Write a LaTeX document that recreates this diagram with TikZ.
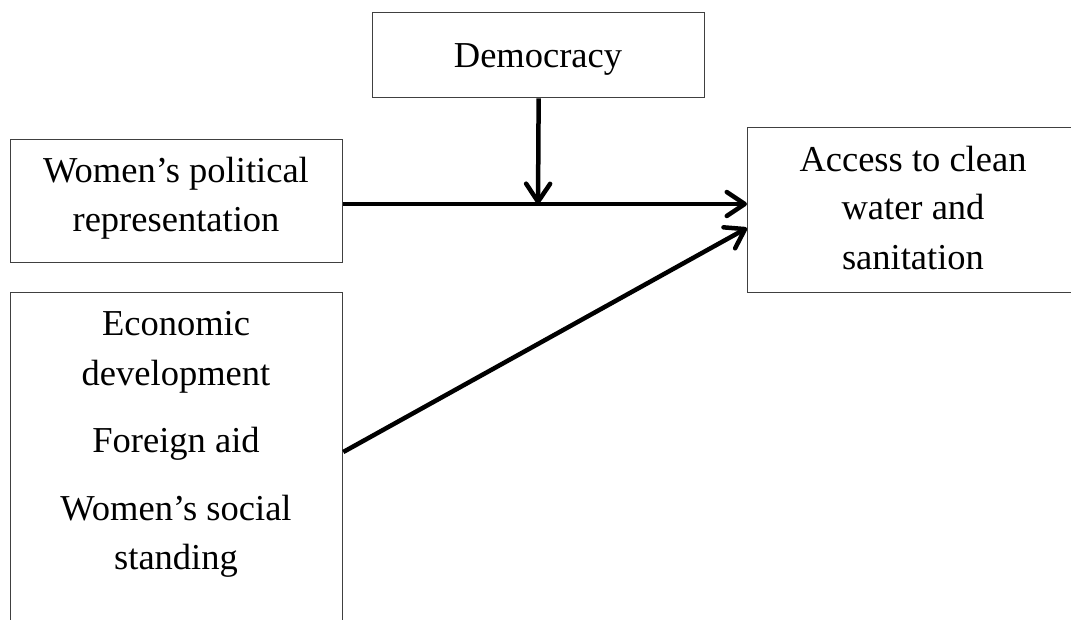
\documentclass[tikz,border=0pt]{standalone}
\usepackage{fontspec}
\setmainfont{Liberation Serif}
\usetikzlibrary{arrows.meta}
\begin{document}
\begin{tikzpicture}[x=1pt,y=-1pt,
  box/.style={draw=black!75, line width=1.3pt, fill=none, inner sep=0pt, anchor=north west},
  lbl/.style={font=\fontsize{36.5}{49}\selectfont, inner sep=0pt, anchor=base},
  arr/.style={line width=4.5pt, -{Straight Barb[length=18pt,width=24pt,round]}}]
\useasboundingbox (0,0) rectangle (1071,620);
\clip (0,0) rectangle (1071,620);
% boxes
\node[box, minimum width=332pt, minimum height=85pt] (dem) at (372,12) {};
\node[box, minimum width=332pt, minimum height=123pt] (pol) at (10,139) {};
\node[box, minimum width=332pt, minimum height=380pt] (eco) at (10,292) {};
\node[box, minimum width=333pt, minimum height=165pt] (acc) at (747,127) {};
% texts
\node[lbl] (demt) at (538,68) {Democracy};
\node[lbl] (polt1) at (176,183) {Women’s political};
\node[lbl] (polt2) at (176,232) {representation};
\node[lbl] (acct1) at (913,172) {Access to clean};
\node[lbl] (acct2) at (913,220) {water and};
\node[lbl] (acct3) at (913,270) {sanitation};
\node[lbl] (ecot1) at (176,336) {Economic};
\node[lbl] (ecot2) at (176,385) {development};
\node[lbl] (ecot3) at (176,452) {Foreign aid};
\node[lbl] (ecot4) at (176,520) {Women’s social};
\node[lbl] (ecot5) at (176,569) {standing};
% connectors
\coordinate (j) at (538,204);
\coordinate (d1) at (342,452);
\coordinate (d2) at (745,228);
\draw[arr] (pol.east |- j) -- (acc.west |- j);
\draw[arr] (dem.south) -- (j);
\draw[arr] (eco.east |- d1) -- (acc.west |- d2);
\end{tikzpicture}
\end{document}
